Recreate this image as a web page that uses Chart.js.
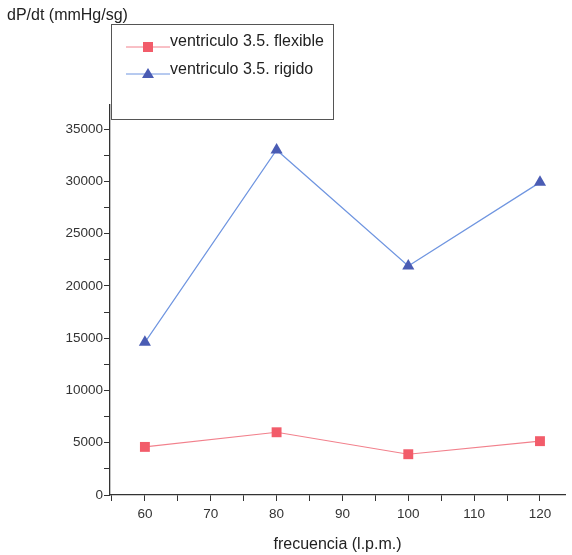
<!DOCTYPE html>
<html>
<head>
<meta charset="utf-8">
<script src="https://cdn.jsdelivr.net/npm/chart.js@4/dist/chart.umd.min.js"></script>
<style>
  body { margin: 0; background: #fff; }
  #myChart { display: block; }
</style>
</head>
<body>
<canvas id="myChart" width="572" height="555"></canvas>
<script>
// data
var frecuencia = [60, 80, 100, 120];
var flexible = [4600, 6000, 3900, 5150];
var rigido = [14600, 33000, 21900, 29900];
var seriesNames = ['ventriculo 3.5. flexible', 'ventriculo 3.5. rigido'];
var xTicks = [55, 60, 65, 70, 75, 80, 85, 90, 95, 100, 105, 110, 115, 120];
var yTicks = [0, 2500, 5000, 7500, 10000, 12500, 15000, 17500, 20000, 22500, 25000, 27500, 30000, 32500, 35000];

var FONT = 'Liberation Sans, Arial, sans-serif';
var red = '#f25c6a', redLine = '#f2808c';
var blue = '#4a5cb4', blueLine = '#6f95e0';

function toPoints(ys) {
    return frecuencia.map(function (x, i) { return { x: x, y: ys[i] }; });
}

// title at top left and the boxed legend
var extras = {
    id: 'extras',
    afterDraw: function (chart) {
        var c = chart.ctx;
        c.save();
        c.fillStyle = '#222';
        c.font = '16px ' + FONT;
        c.textBaseline = 'middle';
        c.fillText('dP/dt (mmHg/sg)', 7, 16);

        c.strokeStyle = '#555';
        c.lineWidth = 1;
        c.strokeRect(111.5, 24.5, 222, 95);

        var rows = [
            { y: 47, ty: 42, line: redLine, fill: red, style: 'rect' },
            { y: 74, ty: 70, line: blueLine, fill: blue, style: 'triangle' }
        ];
        rows.forEach(function (r, i) {
            c.strokeStyle = r.line;
            c.beginPath();
            c.moveTo(126, r.y);
            c.lineTo(170, r.y);
            c.stroke();
            c.fillStyle = r.fill;
            c.beginPath();
            if (r.style === 'rect') {
                c.rect(143, r.y - 5, 10, 10);
            } else {
                c.moveTo(148, r.y - 6);
                c.lineTo(154, r.y + 4);
                c.lineTo(142, r.y + 4);
                c.closePath();
            }
            c.fill();
            c.fillStyle = '#222';
            c.font = '16px ' + FONT;
            c.fillText(seriesNames[i], 170, r.ty);
        });
        c.restore();
    }
};

var ctx = document.getElementById('myChart').getContext('2d');
var chart = new Chart(ctx, {
    type: 'line',
    data: {
        datasets: [{
            label: seriesNames[0],
            data: toPoints(flexible),
            borderColor: redLine,
            backgroundColor: red,
            borderWidth: 1.2,
            pointStyle: 'rect',
            pointRadius: 7,
            pointBorderWidth: 0,
            pointBackgroundColor: red
        }, {
            label: seriesNames[1],
            data: toPoints(rigido),
            borderColor: blueLine,
            backgroundColor: blue,
            borderWidth: 1.2,
            pointStyle: 'triangle',
            pointRadius: 7,
            pointBorderWidth: 0,
            pointBackgroundColor: blue
        }]
    },
    options: {
        responsive: false,
        animation: false,
        layout: { padding: { top: 105, right: 0, left: 0, bottom: 0 } },
        plugins: {
            legend: { display: false },
            tooltip: { enabled: false }
        },
        scales: {
            x: {
                type: 'linear',
                min: 54.7,
                max: 123.8,
                afterBuildTicks: function (s) { s.ticks = xTicks.map(function (v) { return { value: v }; }); },
                afterFit: function (s) { s.height = 60; },
                grid: { drawOnChartArea: false, drawTicks: true, tickLength: 6, tickColor: '#333' },
                border: { color: '#333', width: 1.3 },
                ticks: {
                    color: '#333',
                    font: { family: FONT, size: 13.5 },
                    padding: 5,
                    maxRotation: 0,
                    autoSkip: false,
                    callback: function (v) { return v % 10 === 0 ? String(v) : ''; }
                },
                title: {
                    display: true,
                    text: 'frecuencia (l.p.m.)',
                    color: '#222',
                    font: { family: FONT, size: 16 },
                    padding: { top: 0, bottom: 1 }
                }
            },
            y: {
                min: 0,
                max: 37300,
                afterBuildTicks: function (s) { s.ticks = yTicks.map(function (v) { return { value: v }; }); },
                afterFit: function (s) { s.width = 110; },
                grid: { drawOnChartArea: false, drawTicks: true, tickLength: 6, tickColor: '#333' },
                border: { color: '#333', width: 1.3 },
                ticks: {
                    color: '#333',
                    font: { family: FONT, size: 13.5 },
                    padding: 1,
                    autoSkip: false,
                    callback: function (v) { return v % 5000 === 0 ? String(v) : ''; }
                }
            }
        }
    },
    plugins: [extras]
});
</script>
</body>
</html>
